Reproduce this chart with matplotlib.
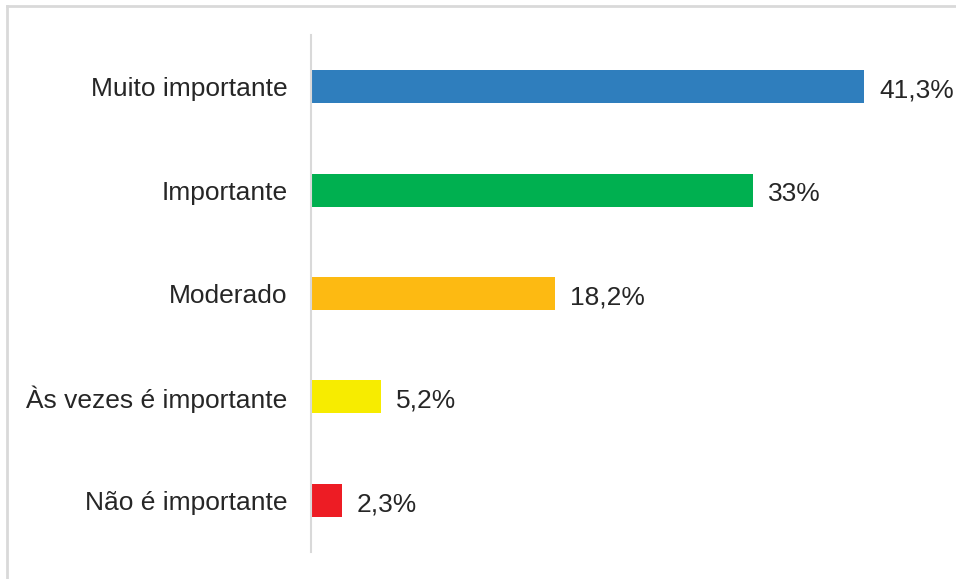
import matplotlib
matplotlib.use("Agg")
import matplotlib.pyplot as plt
from matplotlib.lines import Line2D

categories = ["Muito importante", "Importante", "Moderado", "Às vezes é importante", "Não é importante"]
values = [41.3, 33, 18.2, 5.2, 2.3]
value_labels = ["41,3%", "33%", "18,2%", "5,2%", "2,3%"]
colors = ["#2F7EBD", "#00B050", "#FDBA12", "#F7EC00", "#ED1C24"]

plt.rcParams['font.family'] = ['Liberation Sans', 'DejaVu Sans']
text_color = "#262626"

fig = plt.figure(figsize=(9.56, 5.79), dpi=100)
ax = fig.add_axes([311/956, (579-552)/579, 629/956, 517/579])

y = list(range(len(categories)))
ax.barh(y, values, height=0.32, color=colors)
ax.set_ylim(len(categories) - 0.5, -0.5)
ax.set_xlim(0, 47)
ax.set_yticks(y)
ax.set_yticklabels(categories, fontsize=19, color=text_color)
ax.tick_params(axis='y', length=0, pad=17)
ax.set_xticks([])
for s in ["top", "right", "bottom"]:
    ax.spines[s].set_visible(False)
ax.spines["left"].set_color("#D9D9D9")
ax.spines["left"].set_linewidth(1.5)

for yi, v, lab in zip(y, values, value_labels):
    ax.annotate(lab, (v, yi), xytext=(11, -1), textcoords="offset points",
                va="center_baseline", ha="left", fontsize=19, color=text_color)

# outer border (top and left only visible)
fig.add_artist(Line2D([7/956, 7/956], [0, 1 - 6/579], transform=fig.transFigure, color="#D9D9D9", lw=2))
fig.add_artist(Line2D([7/956, 1], [1 - 6/579, 1 - 6/579], transform=fig.transFigure, color="#D9D9D9", lw=2))

fig.savefig("out.png", dpi=100)
